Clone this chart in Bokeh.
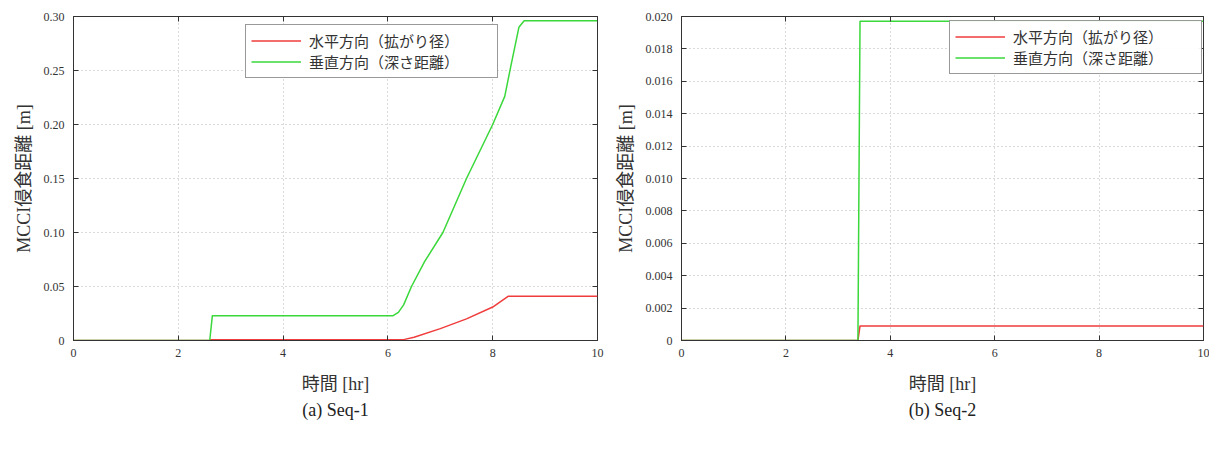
from bokeh.plotting import figure
from bokeh.layouts import row
from bokeh.models import FixedTicker, Legend, LegendItem, Title, LinearAxis, CustomJSTickFormatter
from bokeh.embed import file_html
from bokeh.resources import INLINE

FONT = "'Liberation Serif', 'Noto Sans CJK JP', serif"

# ---- data: Seq-1 ----
seq1_h_time = [0, 2.6, 2.62, 6.3, 6.5, 7.0, 7.5, 8.0, 8.3, 10]
seq1_h_val = [0, 0, 0.0008, 0.0008, 0.003, 0.011, 0.020, 0.031, 0.041, 0.041]
seq1_v_time = [0, 2.6, 2.65, 6.1, 6.2, 6.3, 6.45, 6.7, 7.05, 7.5, 8.0, 8.23, 8.35, 8.5, 8.6, 10]
seq1_v_val = [0, 0, 0.023, 0.023, 0.026, 0.033, 0.050, 0.073, 0.100, 0.150, 0.200, 0.226, 0.255, 0.290, 0.296, 0.296]

# ---- data: Seq-2 ----
seq2_time = [0, 3.38, 3.42, 10]
seq2_h_val = [0, 0, 0.0009, 0.0009]
seq2_v_val = [0, 0, 0.0197, 0.0197]

x_ticks = [0, 2, 4, 6, 8, 10]
seq1_y_ticks = [0, 0.05, 0.10, 0.15, 0.20, 0.25, 0.30]
seq1_y_labels = ["0", "0.05", "0.10", "0.15", "0.20", "0.25", "0.30"]
seq2_y_ticks = [0, 0.002, 0.004, 0.006, 0.008, 0.010, 0.012, 0.014, 0.016, 0.018, 0.020]
seq2_y_labels = ["0", "0.002", "0.004", "0.006", "0.008", "0.010", "0.012", "0.014", "0.016", "0.018", "0.020"]

label_h = "水平方向（拡がり径）"
label_v = "垂直方向（深さ距離）"
x_title = "時間 [hr]"
y_title = "MCCI侵食距離 [m]"

RED = "#f03c3c"
GREEN = "#3ad83a"


def make_fig(ymax, yticks, ylabels, ht, hv, vt, vv, caption, fw, border_left, border_right,
             legend_loc, cap_offset):
    p = figure(frame_width=fw, frame_height=324, x_range=(0, 10), y_range=(0, ymax),
               output_backend="svg", toolbar_location=None,
               min_border_left=border_left, min_border_right=border_right,
               min_border_top=16, min_border_bottom=10)
    p.outline_line_color = "#333333"
    p.outline_line_width = 1
    p.background_fill_color = "white"
    p.border_fill_color = "white"

    xax = p.below[0]
    yax = p.left[0]

    xax.ticker = FixedTicker(ticks=x_ticks)
    yax.ticker = FixedTicker(ticks=yticks)
    yax.major_label_overrides = {t: l for t, l in zip(yticks, ylabels)}
    for ax in (xax, yax):
        ax.major_tick_in = 5
        ax.major_tick_out = 0
        ax.minor_tick_line_color = None
        ax.axis_line_color = "#333333"
        ax.major_tick_line_color = "#333333"
        ax.major_label_text_font = FONT
        ax.major_label_text_font_size = "12px"
        ax.major_label_text_color = "#333333"
        ax.axis_label_text_font = FONT
        ax.axis_label_text_font_size = "18px"
        ax.axis_label_text_font_style = "normal"
        ax.axis_label_text_color = "#333333"
    xax.axis_label = x_title
    yax.axis_label = y_title
    xax.major_label_standoff = 8
    xax.axis_label_standoff = 14
    yax.major_label_standoff = 9
    yax.axis_label_standoff = 7

    # mirrored tick marks on top and right edges (no labels)
    top_ax = LinearAxis(ticker=FixedTicker(ticks=x_ticks),
                        formatter=CustomJSTickFormatter(code="return ''"))
    right_ax = LinearAxis(ticker=FixedTicker(ticks=yticks),
                          formatter=CustomJSTickFormatter(code="return ''"))
    for ax in (top_ax, right_ax):
        ax.major_tick_in = 5
        ax.major_tick_out = 0
        ax.minor_tick_line_color = None
        ax.axis_line_color = None
        ax.major_tick_line_color = "#333333"
        ax.major_label_standoff = 0
        ax.major_label_text_font_size = "1px"
    p.add_layout(top_ax, "above")
    p.add_layout(right_ax, "right")

    p.grid.grid_line_color = "#b4b4b4"
    p.grid.grid_line_dash = "1 3"
    p.grid.grid_line_width = 1

    r1 = p.line(ht, hv, line_color=RED, line_width=1.5)
    r2 = p.line(vt, vv, line_color=GREEN, line_width=1.5)

    legend = Legend(items=[LegendItem(label=label_h, renderers=[r1]),
                           LegendItem(label=label_v, renderers=[r2])],
                    location=legend_loc)
    legend.border_line_color = "#333333"
    legend.border_line_width = 1
    legend.label_text_font = FONT
    legend.label_text_font_size = "15px"
    legend.label_text_color = "#333333"
    legend.glyph_width = 50
    legend.label_width = 183
    legend.label_height = 15
    legend.glyph_height = 15
    legend.label_standoff = 8
    legend.spacing = 0
    legend.padding = 5
    legend.margin = 0
    p.add_layout(legend, "center")

    cap = Title(text=caption, align="center", text_font=FONT, text_font_size="18px",
                text_font_style="normal", text_color="#222222", standoff=3, offset=cap_offset)
    p.add_layout(cap, "below")
    return p


p1 = make_fig(0.30, seq1_y_ticks, seq1_y_labels, seq1_h_time, seq1_h_val,
              seq1_v_time, seq1_v_val, "(a) Seq-1", 524, 73, 10, (172, 262), -28)
p2 = make_fig(0.020, seq2_y_ticks, seq2_y_labels, seq2_time, seq2_h_val,
              seq2_time, seq2_v_val, "(b) Seq-2", 522, 74, 6, (268, 266), -35)

layout = row(p1, p2)
open("out.html", "w").write(file_html(layout, INLINE))
